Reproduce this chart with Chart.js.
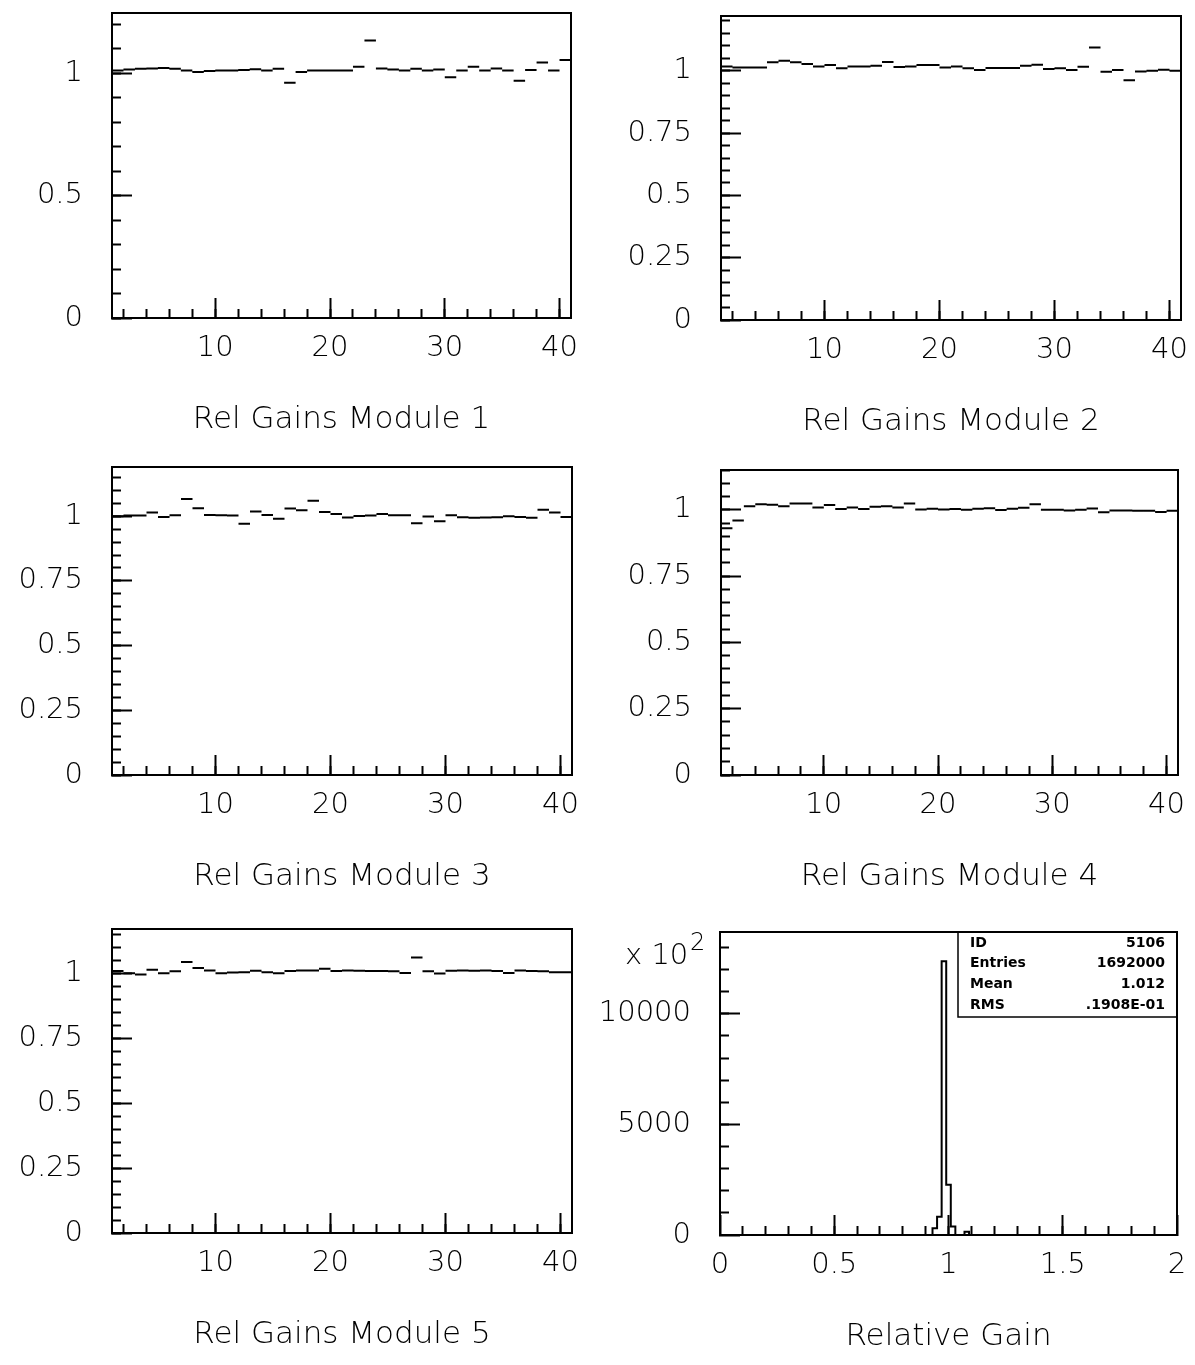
<!DOCTYPE html>
<html>
<head>
<meta charset="utf-8">
<title>Rel Gains</title>
<script src="https://cdn.jsdelivr.net/npm/chart.js@4.4.1/dist/chart.umd.min.js"></script>
<style>
  html, body { margin: 0; padding: 0; background: #fff; overflow: hidden; }
  #page { position: relative; width: 1195px; height: 1365px; }
  #page canvas { position: absolute; }
</style>
</head>
<body>
<div id="page"></div>
<script>
// channel numbers (bins 1..40, upper edge 41)
const channels = [1, 2, 3, 4, 5, 6, 7, 8, 9, 10, 11, 12, 13, 14, 15, 16, 17, 18, 19, 20,
                  21, 22, 23, 24, 25, 26, 27, 28, 29, 30, 31, 32, 33, 34, 35, 36, 37, 38, 39, 40];

// relative gain per channel
const module1 = [1.010, 1.014, 1.017, 1.018, 1.020, 1.017, 1.010, 1.004, 1.008, 1.010,
                 1.010, 1.012, 1.015, 1.010, 1.017, 0.960, 1.004, 1.010, 1.010, 1.010,
                 1.010, 1.026, 1.133, 1.018, 1.014, 1.010, 1.017, 1.010, 1.014, 0.983,
                 1.010, 1.026, 1.010, 1.018, 1.010, 0.968, 1.012, 1.043, 1.010, 1.053];
const module2 = [1.017, 1.013, 1.013, 1.013, 1.034, 1.040, 1.034, 1.027, 1.017, 1.023,
                 1.010, 1.017, 1.017, 1.020, 1.035, 1.015, 1.017, 1.023, 1.023, 1.013,
                 1.017, 1.010, 1.003, 1.011, 1.011, 1.011, 1.020, 1.024, 1.007, 1.010,
                 1.003, 1.016, 1.094, 0.996, 1.003, 0.962, 0.997, 1.000, 1.004, 1.000];
const module3 = [1.000, 1.003, 1.003, 1.014, 0.997, 1.004, 1.066, 1.031, 1.005, 1.004,
                 1.003, 0.971, 1.018, 1.005, 0.990, 1.030, 1.023, 1.060, 1.016, 1.008,
                 0.995, 1.001, 1.003, 1.008, 1.004, 1.004, 0.973, 0.999, 0.980, 1.004,
                 0.996, 0.994, 0.995, 0.996, 1.000, 0.997, 0.994, 1.025, 1.014, 0.997];
const module4 = [0.930, 0.960, 1.013, 1.021, 1.019, 1.013, 1.024, 1.024, 1.009, 1.018,
                 1.003, 1.009, 1.003, 1.011, 1.013, 1.009, 1.024, 1.001, 1.004, 1.001,
                 1.003, 1.000, 1.004, 1.006, 0.999, 1.004, 1.008, 1.021, 1.000, 1.000,
                 0.997, 1.000, 1.005, 0.991, 0.997, 0.997, 0.996, 0.996, 0.992, 0.996];
const module5 = [1.008, 1.000, 0.995, 1.013, 1.000, 1.007, 1.043, 1.020, 1.010, 1.000,
                 1.003, 1.004, 1.009, 1.004, 1.000, 1.008, 1.010, 1.010, 1.017, 1.008,
                 1.010, 1.009, 1.008, 1.008, 1.007, 1.001, 1.060, 1.007, 0.999, 1.009,
                 1.010, 1.009, 1.010, 1.008, 1.001, 1.010, 1.008, 1.007, 1.004, 1.004];

// relative gain distribution, counts in units of 100
const gainEdges  = [0.91, 0.93, 0.95, 0.97, 0.99, 1.01, 1.03, 1.05, 1.07, 1.09, 1.11];
const gainCounts = [0,    300,  830,  12380, 2270, 380,  0,    0,    150,  0,    0];

// histogram statistics box
const statsRows = [['ID', '5106'], ['Entries', '1692000'], ['Mean', '1.012'], ['RMS', '.1908E-01']];

// labelled ticks
const channelTicks = [10, 20, 30, 40];
const gainTicksHalf = [0, 0.5, 1];
const gainTicksQuarter = [0, 0.25, 0.5, 0.75, 1];
const relGainTicks = [0, 0.5, 1, 1.5, 2];
const countTicks = [0, 5000, 10000];

const FONT = "'DejaVu Sans', 'Liberation Sans', sans-serif";
const TOP_PAD = 8;
const X_AXIS_HEIGHT = 121;
const page = document.getElementById('page');

function steps(from, to, step) {
  const out = [];
  for (let v = from; v <= to + step / 1000; v += step) out.push(Math.round(v * 1000) / 1000);
  return out;
}

const framePlugin = {
  id: 'frame',
  afterDraw(chart) {
    const { ctx, chartArea: a } = chart;
    ctx.save();
    ctx.strokeStyle = '#000';
    ctx.lineWidth = 2;
    ctx.strokeRect(a.left, a.top, a.right - a.left, a.bottom - a.top);
    ctx.restore();
  }
};

function tickAxis(position, min, max, values, len, size, labelled, extra) {
  return Object.assign({
    type: 'linear',
    position,
    weight: labelled ? 1 : 0,
    min, max,
    afterBuildTicks: s => { s.ticks = values.map(v => ({ value: v })); },
    afterFit: s => {
      if (position === 'bottom') s.height = size; else s.width = size;
      // keep the plot frame fixed: labels may overhang into the page margins
      s.paddingTop = s.paddingBottom = s.paddingLeft = s.paddingRight = 0;
    },
    grid: { drawOnChartArea: false, drawTicks: true, tickLength: -len, tickWidth: 2, tickColor: '#000' },
    border: { display: labelled, color: '#000', width: 2 },
    ticks: labelled
      ? { color: '#000', font: { family: FONT, size: 29, weight: '200' }, maxRotation: 0, autoSkip: false,
          padding: position === 'bottom' ? 33 : 49, callback: v => String(v) }
      : { display: false }
  }, extra || {});
}

function buildPanel(p) {
  const canvas = document.createElement('canvas');
  const w = p.frame.right - p.frame.left;
  const h = p.frame.bottom - p.frame.top;
  canvas.width = p.yAxisWidth + w + p.rightPad;
  canvas.height = TOP_PAD + h + X_AXIS_HEIGHT;
  canvas.style.left = (p.frame.left - p.yAxisWidth) + 'px';
  canvas.style.top = (p.frame.top - TOP_PAD) + 'px';
  page.appendChild(canvas);

  return new Chart(canvas, {
    type: 'line',
    data: { datasets: p.datasets },
    options: {
      responsive: false,
      animation: false,
      devicePixelRatio: 1,
      layout: { padding: { top: TOP_PAD, right: p.rightPad, left: 0, bottom: 0 } },
      scales: {
        x: tickAxis('bottom', p.xMin, p.xMax, p.xMajor, 20, X_AXIS_HEIGHT, true, {
          title: { display: true, text: p.title, color: '#000', padding: 0,
                   font: { family: FONT, size: 31, weight: '200' } }
        }),
        xMinor: tickAxis('bottom', p.xMin, p.xMax, p.xMinor, 9, 0, false),
        y: tickAxis('left', 0, p.yMax, p.yMajor, 20, p.yAxisWidth, true),
        yMinor: tickAxis('left', 0, p.yMax, p.yMinor, 9, 0, false)
      },
      plugins: { legend: { display: false }, tooltip: { enabled: false } }
    },
    plugins: [framePlugin].concat(p.plugins || [])
  });
}

// one horizontal segment per channel, broken between channels
function channelSegments(values) {
  const pts = [];
  values.forEach((v, i) => {
    pts.push({ x: channels[i], y: v }, { x: channels[i] + 1, y: v }, { x: channels[i] + 1, y: null });
  });
  return [{
    data: pts, xAxisID: 'x', yAxisID: 'y',
    borderColor: '#000', borderWidth: 2, pointRadius: 0, tension: 0, spanGaps: false
  }];
}

function gainPanel(frame, values, yMax, yMajor, yMinorStep, title, yAxisWidth, rightPad) {
  return buildPanel({
    frame, yAxisWidth, rightPad, title,
    xMin: 1, xMax: 41, xMajor: channelTicks, xMinor: steps(2, 40, 2),
    yMax, yMajor, yMinor: steps(0, yMax, yMinorStep),
    datasets: channelSegments(values)
  });
}

gainPanel({ left: 112, top: 13, right: 571, bottom: 318 }, module1, 1.245, gainTicksHalf, 0.1, 'Rel Gains Module 1', 112, 28);
gainPanel({ left: 721, top: 16, right: 1181, bottom: 320 }, module2, 1.22, gainTicksQuarter, 0.05, 'Rel Gains Module 2', 112, 14);
gainPanel({ left: 112, top: 467, right: 572, bottom: 775 }, module3, 1.19, gainTicksQuarter, 0.05, 'Rel Gains Module 3', 112, 28);
gainPanel({ left: 721, top: 470, right: 1178, bottom: 775 }, module4, 1.15, gainTicksQuarter, 0.05, 'Rel Gains Module 4', 112, 17);
gainPanel({ left: 112, top: 929, right: 572, bottom: 1233 }, module5, 1.17, gainTicksQuarter, 0.05, 'Rel Gains Module 5', 112, 28);

// exponent label and statistics box of the distribution panel
const histoLabels = {
  id: 'histoLabels',
  afterDraw(chart) {
    const { ctx, chartArea: a } = chart;
    ctx.save();
    ctx.fillStyle = '#000';
    ctx.textBaseline = 'middle';
    ctx.font = "200 29px " + FONT;
    ctx.textAlign = 'left';
    ctx.fillText('x 10', a.left - 95, a.top + 24);
    ctx.font = "200 24px " + FONT;
    ctx.fillText('2', a.left - 30, a.top + 12);

    const boxLeft = a.right - 219;
    ctx.strokeStyle = '#000';
    ctx.lineWidth = 1.5;
    ctx.strokeRect(boxLeft, a.top, a.right - boxLeft, 85);
    ctx.font = "bold 14px " + FONT;
    statsRows.forEach((row, i) => {
      const y = a.top + 11 + i * 20.8;
      ctx.textAlign = 'left';
      ctx.fillText(row[0], boxLeft + 12, y);
      ctx.textAlign = 'right';
      ctx.fillText(row[1], a.right - 12, y);
    });
    ctx.restore();
  }
};

buildPanel({
  frame: { left: 720, top: 932, right: 1177, bottom: 1235 },
  yAxisWidth: 140, rightPad: 17, title: 'Relative Gain',
  xMin: 0, xMax: 2, xMajor: relGainTicks, xMinor: steps(0.1, 1.9, 0.1),
  yMax: 13700, yMajor: countTicks, yMinor: steps(1000, 13000, 1000),
  datasets: [{
    data: gainEdges.map((e, i) => ({ x: e, y: gainCounts[i] })),
    xAxisID: 'x', yAxisID: 'y', stepped: 'before',
    borderColor: '#000', borderWidth: 2, pointRadius: 0
  }],
  plugins: [histoLabels]
});
</script>
</body>
</html>
